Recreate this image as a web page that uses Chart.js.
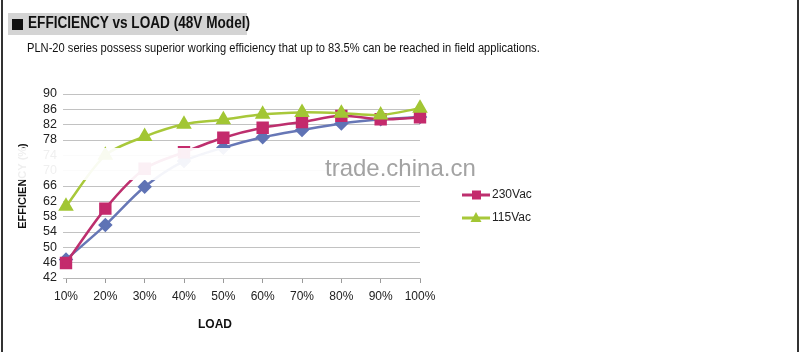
<!DOCTYPE html>
<html lang="en">
<head>
<meta charset="UTF-8">
<title>Efficiency vs Load (48V Model)</title>
<script src="https://cdn.jsdelivr.net/npm/chart.js"></script>
<style>
    html, body {
        margin: 0;
        padding: 0;
        background: #fff;
    }

    body {
        width: 800px;
        height: 352px;
        position: relative;
        overflow: hidden;
        font-family: "Liberation Sans", Arial, sans-serif;
        color: #111;
    }

    .frame {
        position: absolute;
        left: 1px;
        top: 0;
        width: 798px;
        height: 352px;
        border-left: 2px solid #333;
        border-right: 2px solid #333;
        box-sizing: border-box;
        pointer-events: none;
    }

    .heading {
        position: absolute;
        left: 8px;
        top: 13px;
        width: 239px;
        height: 22px;
        background: #d4d4d4;
    }

    .heading .box {
        position: absolute;
        left: 4px;
        top: 6px;
        width: 11px;
        height: 11px;
        background: #111;
    }

    .heading .txt {
        position: absolute;
        left: 20px;
        top: 1px;
        font-weight: bold;
        font-size: 16px;
        white-space: nowrap;
        transform-origin: left top;
    }

    .note {
        position: absolute;
        left: 27px;
        top: 41px;
        font-size: 12px;
        white-space: nowrap;
        transform-origin: left top;
    }

    .chart-box {
        position: absolute;
        left: 0;
        top: 0;
        width: 800px;
        height: 352px;
    }
</style>
</head>
<body>

<div class="chart-box"><canvas id="effChart"></canvas></div>

<div class="heading"><div class="box"></div><div class="txt" id="headTxt">EFFICIENCY vs LOAD (48V Model)</div></div>
<div class="note" id="noteTxt">PLN-20 series possess superior working efficiency that up to 83.5% can be reached in field applications.</div>
<div class="frame"></div>

<script>
    // load points (x axis)
    const loadLabels = ['10%', '20%', '30%', '40%', '50%', '60%', '70%', '80%', '90%', '100%'];

    // efficiency readings (%)
    const effUnnamed = [46.8, 55.8, 65.8, 72.5, 76.0, 78.7, 80.6, 82.3, 83.4, 84.0];
    const eff230Vac = [45.9, 60.1, 70.5, 74.8, 78.6, 81.2, 82.7, 84.3, 83.4, 83.9];
    const eff115Vac = [60.7, 74.0, 78.9, 82.1, 83.3, 84.7, 85.2, 85.0, 84.5, 86.3];

    // y axis range
    const yMin = 42;
    const yMax = 90;
    const yStep = 4;

    // squeeze the narrow heading fonts to the width they take in the picture
    function fitWidth(id, target) {
        const el = document.getElementById(id);
        el.style.transform = 'scaleX(' + (target / el.offsetWidth) + ')';
    }
    fitWidth('headTxt', 222);
    fitWidth('noteTxt', 513);

    const blue = '#6777b6';
    const magenta = '#bd2f6e';
    const green = '#a8c83a';

    // watermark, axis title LOAD and the little legend on the right
    const overlay = {
        id: 'overlay',
        afterDraw(chart) {
            const ctx = chart.ctx;
            ctx.save();

            ctx.font = 'bold 12px "Liberation Sans", Arial, sans-serif';
            ctx.fillStyle = '#111';
            ctx.textAlign = 'center';
            ctx.textBaseline = 'middle';
            ctx.fillText('LOAD', 215, 325);

            ctx.fillStyle = 'rgba(255,255,255,0.93)';
            ctx.fillRect(4, 148, 556, 32);
            ctx.font = '24px "Liberation Sans", Arial, sans-serif';
            ctx.fillStyle = '#a3a3a3';
            ctx.textAlign = 'left';
            ctx.textBaseline = 'alphabetic';
            ctx.fillText('trade.china.cn', 325, 176);

            let y = 195;
            chart.data.datasets.forEach(ds => {
                if (!ds.label) return;
                ctx.strokeStyle = ds.borderColor;
                ctx.lineWidth = 3;
                ctx.beginPath();
                ctx.moveTo(462, y);
                ctx.lineTo(490, y);
                ctx.stroke();
                ctx.fillStyle = ds.pointBackgroundColor;
                ctx.beginPath();
                if (ds.pointStyle === 'rect') {
                    ctx.rect(472, y - 4.5, 9, 9);
                } else {
                    ctx.moveTo(476, y - 6);
                    ctx.lineTo(481.5, y + 4);
                    ctx.lineTo(470.5, y + 4);
                    ctx.closePath();
                }
                ctx.fill();
                ctx.font = '12px "Liberation Sans", Arial, sans-serif';
                ctx.fillStyle = '#222';
                ctx.textBaseline = 'middle';
                ctx.fillText(ds.label, 492, y);
                y += 23;
            });

            ctx.restore();
        }
    };

    const ctx = document.getElementById('effChart').getContext('2d');
    const effChart = new Chart(ctx, {
        type: 'line',
        data: {
            labels: loadLabels,
            datasets: [{
                label: '',
                data: effUnnamed,
                borderColor: blue,
                backgroundColor: blue,
                pointBackgroundColor: '#5f73b5',
                pointBorderColor: '#5f73b5',
                pointStyle: 'rectRot',
                pointRadius: 5.5,
                borderWidth: 2.5,
                tension: 0.3,
                clip: false,
                order: 3
            }, {
                label: '230Vac',
                data: eff230Vac,
                borderColor: magenta,
                backgroundColor: magenta,
                pointBackgroundColor: '#c42a6c',
                pointBorderColor: '#c42a6c',
                pointStyle: 'rect',
                pointRadius: 7,
                borderWidth: 2.5,
                tension: 0.3,
                clip: false,
                order: 2
            }, {
                label: '115Vac',
                data: eff115Vac,
                borderColor: green,
                backgroundColor: green,
                pointBackgroundColor: '#a2c634',
                pointBorderColor: '#a2c634',
                pointStyle: 'triangle',
                pointRadius: 6.5,
                borderWidth: 2.5,
                tension: 0.3,
                clip: false,
                order: 1
            }]
        },
        options: {
            responsive: true,
            maintainAspectRatio: false,
            animation: false,
            layout: {
                padding: { top: 94, right: 380, left: 0, bottom: 0 }
            },
            plugins: {
                legend: { display: false },
                tooltip: { enabled: false }
            },
            scales: {
                x: {
                    offset: false,
                    grid: {
                        drawOnChartArea: false,
                        tickLength: 5,
                        color: '#9a9a9a'
                    },
                    border: { display: true, color: '#b5b5b5' },
                    ticks: {
                        padding: 6,
                        color: '#222',
                        maxRotation: 0,
                        autoSkip: false,
                        font: { size: 12, family: '"Liberation Sans", Arial, sans-serif' }
                    },
                    afterFit(scale) {
                        scale.height = 74;
                    }
                },
                y: {
                    min: yMin,
                    max: yMax,
                    grid: {
                        color: '#c2c2c2',
                        tickLength: 3
                    },
                    border: { display: false },
                    ticks: {
                        stepSize: yStep,
                        autoSkip: false,
                        padding: 6,
                        color: '#222',
                        font: { size: 12.5, family: '"Liberation Sans", Arial, sans-serif' }
                    },
                    title: {
                        display: true,
                        text: 'EFFICIENCY (%)',
                        color: '#111',
                        padding: { top: 16, bottom: 0 },
                        font: { size: 11, weight: 'bold', family: '"Liberation Sans", Arial, sans-serif' }
                    },
                    afterFit(scale) {
                        scale.width = 66;
                    }
                }
            }
        },
        plugins: [overlay]
    });
</script>

</body>
</html>
